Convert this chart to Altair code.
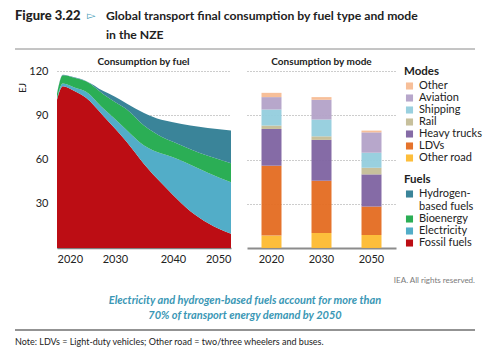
import altair as alt
import pandas as pd

# ---------------- data ----------------
years = [2020, 2021, 2023, 2025, 2028, 2030, 2032, 2035, 2038, 2040, 2043, 2046, 2050]
fossil = [100.5, 109.7, 106.5, 101.8, 89.5, 81.0, 72.0, 57.0, 44.0, 36.0, 25.0, 17.0, 9.7]
electricity = [0.8, 1.8, 2.3, 4.2, 5.0, 6.5, 8.0, 12.5, 20.0, 25.5, 31.5, 34.0, 34.8]
bioenergy = [3.2, 5.7, 6.7, 7.0, 9.8, 11.5, 14.0, 13.5, 11.5, 10.5, 10.5, 11.5, 13.0]
hydrogen = [0.2, 0.2, 0.2, 0.3, 2.1, 3.5, 4.0, 8.6, 11.5, 13.3, 16.0, 18.8, 22.1]

fuel_names = ["Hydrogen-based fuels", "Bioenergy", "Electricity", "Fossil fuels"]
fuel_colors = ["#3A8499", "#2BAE55", "#52ADC8", "#BC0D14"]

bar_years = ["2020", "2030", "2050"]
other_road = [8.4, 10.2, 8.8]
ldvs = [47.4, 35.4, 19.3]
heavy_trucks = [24.9, 27.7, 21.8]
rail = [2.3, 2.4, 4.5]
shipping = [10.9, 11.4, 10.2]
aviation = [8.4, 13.4, 13.8]
other = [2.9, 1.8, 1.2]

mode_names = ["Other", "Aviation", "Shipping", "Rail", "Heavy trucks", "LDVs", "Other road"]
mode_colors = ["#F7BC94", "#B3A2C8", "#93CDDD", "#C4BD97", "#7E63A1", "#E46C21", "#FDBB30"]

# ---------------- tables ----------------
fuel_series = {"Fossil fuels": fossil, "Electricity": electricity,
               "Bioenergy": bioenergy, "Hydrogen-based fuels": hydrogen}
fuel_stack = ["Fossil fuels", "Electricity", "Bioenergy", "Hydrogen-based fuels"]
rows = []
for i, y in enumerate(years):
    for k, name in enumerate(fuel_stack):
        rows.append({"year": y, "fuel": name, "value": fuel_series[name][i], "ord": k})
fuel_df = pd.DataFrame(rows)

mode_series = {"Other road": other_road, "LDVs": ldvs, "Heavy trucks": heavy_trucks,
               "Rail": rail, "Shipping": shipping, "Aviation": aviation, "Other": other}
mode_stack = ["Other road", "LDVs", "Heavy trucks", "Rail", "Shipping", "Aviation", "Other"]
rows = []
for i, y in enumerate(bar_years):
    for k, name in enumerate(mode_stack):
        rows.append({"year": y, "mode": name, "value": mode_series[name][i], "ord": k})
mode_df = pd.DataFrame(rows)

FONT = "Lato"
OX, OY = 57, 71  # absolute position of left plot origin
TXT = "#222222"
GRID = "#9a9a9a"


def T(text, x, y, size, weight="normal", color=TXT, align="left", style="normal",
      angle=0, font=FONT):
    return alt.Chart(pd.DataFrame({"t": [text]})).mark_text(
        font=font, fontSize=size, fontWeight=weight, color=color, align=align,
        fontStyle=style, angle=angle, baseline="middle"
    ).encode(text="t:N", x=alt.value(x - OX), y=alt.value(y - OY))


def R(x1, x2, y, color, width, opacity=1.0):
    return alt.Chart(pd.DataFrame({"a": [0]})).mark_rule(
        color=color, strokeWidth=width, opacity=opacity
    ).encode(x=alt.value(x1 - OX), x2=alt.value(x2 - OX), y=alt.value(y - OY))


legend_common = dict(
    orient="none", symbolType="square", symbolSize=50, symbolStrokeWidth=0,
    labelFont=FONT, labelFontSize=11, labelColor=TXT, titleFont=FONT,
    titleFontSize=11.5, titleFontWeight="bold", titleColor=TXT, rowPadding=0,
    titlePadding=3, labelOffset=4, padding=0,
)

area = alt.Chart(fuel_df).mark_area(interpolate="monotone").encode(
    x=alt.X("year:Q", scale=alt.Scale(domain=[2020, 2050], nice=False, zero=False),
            axis=alt.Axis(values=[2020, 2030, 2040, 2050], format="d", title=None,
                          grid=False, ticks=False, domainColor="#7f7f7f", domainWidth=1.5,
                          labelFont=FONT, labelFontSize=11, labelColor=TXT, labelPadding=5)),
    y=alt.Y("value:Q", stack="zero", scale=alt.Scale(domain=[0, 120], nice=False),
            axis=alt.Axis(values=[0, 30, 60, 90, 120], title=None, grid=True,
                          gridDash=[1, 2], gridColor=GRID, domain=False, ticks=False,
                          labelExpr="datum.value == 0 ? '' : datum.label",
                          labelPadding=9, labelFont=FONT, labelFontSize=11,
                          labelColor=TXT)),
    color=alt.Color("fuel:N", scale=alt.Scale(domain=fuel_names, range=fuel_colors),
                    legend=alt.Legend(title="Fuels", legendX=404 - OX, legendY=174 - OY,
                                      labelExpr="datum.label == 'Hydrogen-based fuels' ? ['Hydrogen-', 'based fuels'] : datum.label",
                                      **legend_common)),
    order=alt.Order("ord:Q"),
)

annotations = [
    R(0, 500, 0, "#ffffff", 1, 0.0),
    R(0, 500, 352, "#ffffff", 1, 0.0),
    T("Figure 3.22", 15, 16, 13, weight=900),
    T("\u25BB", 87, 16, 11, color="#3A97B5", font="DejaVu Sans"),
    T("Global transport final consumption by fuel type and mode", 106, 16, 12.2, weight="bold"),
    T("in the NZE", 106, 35, 12.2, weight="bold"),
    R(15, 475, 49, "#8a8a8a", 1),
    T("Consumption by fuel", 143.5, 62, 10, weight="bold", align="center"),
    T("Consumption by mode", 321.5, 62, 10, weight="bold", align="center"),
    T("EJ", 23, 88, 10, angle=270, align="center"),
    T("IEA. All rights reserved.", 475, 281, 8, color="#7a7a7a", align="right"),
    T("Electricity and hydrogen-based fuels account for more than", 245, 301, 11,
      weight="bold", style="italic", color="#3A97B5", align="center"),
    T("70% of transport energy demand by 2050", 245, 316, 11,
      weight="bold", style="italic", color="#3A97B5", align="center"),
    R(15, 475, 330, "#6f6f6f", 1.3),
    T("Note: LDVs = Light-duty vehicles; Other road = two/three wheelers and buses.",
      15, 342, 9),
]

left = alt.layer(area, *annotations).properties(width=174, height=177)

bars = alt.Chart(mode_df).mark_bar(opacity=0.95).encode(
    x=alt.X("year:N", sort=bar_years,
            scale=alt.Scale(paddingInner=0.6, paddingOuter=0.29),
            axis=alt.Axis(title=None, labelAngle=0, ticks=False, domainColor="#8c8c8c",
                          domainWidth=2, labelPadding=5, labelFont=FONT, labelFontSize=11,
                          labelColor=TXT)),
    y=alt.Y("value:Q", scale=alt.Scale(domain=[0, 120], nice=False),
            axis=alt.Axis(values=[30, 60, 90, 120], grid=True, labels=False, domain=False,
                          ticks=False, title=None, gridDash=[1, 2], gridColor=GRID)),
    color=alt.Color("mode:N", scale=alt.Scale(domain=mode_names, range=mode_colors),
                    legend=alt.Legend(title="Modes", legendX=404 - 247, legendY=66 - OY,
                                      **legend_common)),
    order=alt.Order("ord:Q"),
).properties(width=149, height=177)

chart = alt.hconcat(left, bars, spacing=16, bounds="flush").resolve_scale(
    color="independent"
).resolve_legend(color="independent").configure_view(stroke=None).properties(
    padding=0, background="white"
)

chart.save("out.html", embed_options={"renderer": "svg", "actions": False})
